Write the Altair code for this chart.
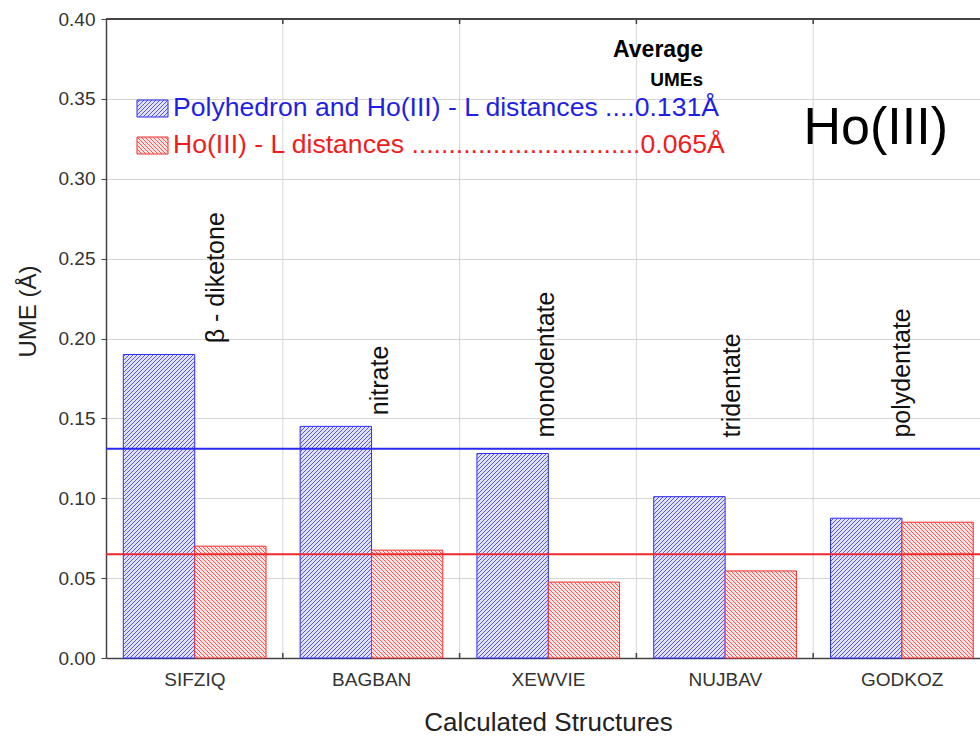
import json

import altair as alt
import numpy as np
import pandas as pd

# Structures and their ligand class
categories = ["SIFZIQ", "BAGBAN", "XEWVIE", "NUJBAV", "GODKOZ"]
ligand_types = ["β - diketone", "nitrate", "monodentate", "tridentate", "polydentate"]

# Unsigned mean errors (Å)
ume_polyhedron = [0.190, 0.145, 0.128, 0.101, 0.0875]
ume_ho_l = [0.070, 0.0675, 0.0475, 0.0545, 0.085]
avg_polyhedron = 0.131
avg_ho_l = 0.065

y_ticks = [0.00, 0.05, 0.10, 0.15, 0.20, 0.25, 0.30, 0.35, 0.40]

series_names = ["poly", "hol"]
legend_texts = [
    "Polyhedron and Ho(III) - L distances ....0.131Å",
    "Ho(III) - L distances " + "." * 31 + "0.065Å",
]

# ---- layout / style ----
FONT = "Liberation Sans"
WIDTH, HEIGHT = 874, 639
BAND_PX = 176.8
X_MAX = WIDTH / BAND_PX
Y_MAX = 0.40
PX_Y = HEIGHT / Y_MAX
BAR_START, BAR_MID, BAR_END = 0.098, 0.502, 0.905
HATCH_PITCH = 4.0
AXIS_GRAY = "#444444"
GRID_GRAY = "#d6d6d6"
LINE_COLORS = ["#2020f0", "#f01c1c"]
HATCH_COLORS = ["#4646ff", "#ff4646"]
FILL_COLORS = ["#e2e2ff", "#ffe2e2"]
EDGE_COLORS = ["#2a2aee", "#ee2a2a"]
TEXT_COLORS = ["#1f1fe6", "#f01c1c"]


def hatch(x0, x1, y0, y1, rising, series):
    """Diagonal hatch segments clipped to a rectangle given in pixels
    (x from plot left, y up from the baseline); returned in data units."""
    segs = []
    lo, hi = (x0 - y1, x1 - y0) if rising else (x0 + y0, x1 + y1)
    c = np.ceil(lo / HATCH_PITCH) * HATCH_PITCH
    while c < hi:
        if rising:
            ys, ye = max(y0, x0 - c), min(y1, x1 - c)
            pts = (c + ys, ys, c + ye, ye)
        else:
            ys, ye = max(y0, c - x1), min(y1, c - x0)
            pts = (c - ys, ys, c - ye, ye)
        if ye - ys > 0.3:
            segs.append(dict(x=pts[0] / BAND_PX, y=pts[1] / PX_Y,
                             x2=pts[2] / BAND_PX, y2=pts[3] / PX_Y, series=series))
        c += HATCH_PITCH
    return segs


rects, segs = [], []
for i, (vp, vh) in enumerate(zip(ume_polyhedron, ume_ho_l)):
    for s, (a, b, v, rising) in zip(series_names, [
        (BAR_START, BAR_MID, vp, True),
        (BAR_MID, BAR_END, vh, False),
    ]):
        rects.append(dict(x0=i + a, x1=i + b, y0=0.0, y1=v, series=s))
        segs += hatch((i + a) * BAND_PX, (i + b) * BAND_PX, 0.0, v * PX_Y, rising, s)

# legend swatches (pixel boxes inside the plot, y measured down from the top)
swatch_boxes = [(31, 62, 81, 98), (31, 62, 118, 135)]
for s, (bx0, bx1, by0, by1), rising in zip(series_names, swatch_boxes, [True, False]):
    u0, u1 = HEIGHT - by1, HEIGHT - by0
    rects.append(dict(x0=bx0 / BAND_PX, x1=bx1 / BAND_PX, y0=u0 / PX_Y, y1=u1 / PX_Y, series=s))
    segs += hatch(bx0, bx1, u0, u1, rising, s)

rect_df = pd.DataFrame(rects)
hatch_df = pd.DataFrame(segs)
avg_df = pd.DataFrame({"series": series_names, "avg": [avg_polyhedron, avg_ho_l]})
bound_df = pd.DataFrame({"b": list(range(1, len(categories)))})
label_pos = [0.62, 0.55, 0.49, 0.54, 0.50]
ann_df = pd.DataFrame({
    "lx": [i + p for i, p in enumerate(label_pos)],
    "ly": [max(v + 0.007, 0.138) for v in ume_polyhedron],
    "label": ligand_types,
})

x_scale = alt.Scale(domain=[0, X_MAX], nice=False, zero=False)
y_scale = alt.Scale(domain=[0, Y_MAX], nice=False)
line_scale = alt.Scale(domain=series_names, range=LINE_COLORS)
hatch_scale = alt.Scale(domain=series_names, range=HATCH_COLORS)

x_axis = alt.Axis(
    values=[i + 0.5 for i in range(len(categories))],
    labelExpr=json.dumps(categories) + "[floor(datum.value)]",
    title="Calculated Structures", grid=False, ticks=False, tickSize=0,
    domainColor=AXIS_GRAY, domainWidth=1.5,
    labelFont=FONT, labelFontSize=19, labelColor="#333333", labelPadding=12,
    labelFlush=False, labelOverlap=False,
    titleFont=FONT, titleFontSize=26, titleFontWeight="normal", titleColor="#222222",
    titleX=442, titleY=64, titleBaseline="middle",
)
y_axis = alt.Axis(
    values=y_ticks, format=".2f", title="UME (Å)",
    grid=True, gridColor=GRID_GRAY, gridWidth=1,
    ticks=True, tickSize=5, tickColor=AXIS_GRAY,
    domainColor=AXIS_GRAY, domainWidth=1.5,
    labelFont=FONT, labelFontSize=19, labelColor="#333333", labelPadding=6,
    titleFont=FONT, titleFontSize=24, titleFontWeight="normal", titleColor="#222222",
    titleX=-78, titleY=292, titleAngle=270, titleBaseline="middle", titleAlign="center",
)

vgrid = alt.Chart(bound_df).mark_rule(color=GRID_GRAY, strokeWidth=1).encode(
    x=alt.X("b:Q", scale=x_scale, axis=x_axis)
)

bars = alt.Chart(rect_df).mark_rect(strokeWidth=1).encode(
    x=alt.X("x0:Q", scale=x_scale, axis=x_axis),
    x2="x1:Q",
    y=alt.Y("y1:Q", scale=y_scale, axis=y_axis),
    y2="y0:Q",
    fill=alt.Fill("series:N", scale=alt.Scale(domain=series_names, range=FILL_COLORS), legend=None),
    stroke=alt.Stroke("series:N", scale=alt.Scale(domain=series_names, range=EDGE_COLORS), legend=None),
)

hatches = alt.Chart(hatch_df).mark_rule(strokeWidth=0.9).encode(
    x="x:Q", y="y:Q", x2="x2:Q", y2="y2:Q",
    color=alt.Color("series:N", scale=hatch_scale, legend=None),
)

avg_lines = alt.Chart(avg_df).mark_rule(strokeWidth=2).encode(
    y="avg:Q",
    stroke=alt.Stroke("series:N", scale=line_scale, legend=None),
)

bottom_ticks = alt.Chart(bound_df).mark_rule(color=AXIS_GRAY, strokeWidth=1.5).encode(
    x="b:Q", y=alt.value(HEIGHT), y2=alt.value(HEIGHT - 5)
)
top_ticks = alt.Chart(bound_df).mark_rule(color=AXIS_GRAY, strokeWidth=1.5).encode(
    x="b:Q", y=alt.value(0), y2=alt.value(5)
)
top_frame = alt.Chart(bound_df).mark_rule(color=AXIS_GRAY, strokeWidth=1.5).encode(
    y=alt.value(0), x=alt.value(0), x2=alt.value(WIDTH + 2)
)

annotations = alt.Chart(ann_df).mark_text(
    angle=270, align="left", baseline="middle", font=FONT, fontSize=25, color="#111111"
).encode(x="lx:Q", y="ly:Q", text="label:N")


def label(text, x, y, size, color="#000000", weight="normal", align="left"):
    return alt.Chart(pd.DataFrame({"t": [text]})).mark_text(
        font=FONT, fontSize=size, fontWeight=weight, color=color,
        align=align, baseline="middle",
    ).encode(x=alt.value(x), y=alt.value(y), text="t:N")


texts = [
    label("Average", 597, 31, 23, weight="bold", align="right"),
    label("UMEs", 597, 61, 19, weight="bold", align="right"),
    label(legend_texts[0], 67, 89, 26.6, color=TEXT_COLORS[0]),
    label(legend_texts[1], 67, 126, 26.6, color=TEXT_COLORS[1]),
    label("Ho(III)", 842, 109, 52, align="right"),
]

chart = alt.layer(
    vgrid, bars, hatches, avg_lines, bottom_ticks, top_ticks, top_frame, annotations, *texts
).properties(
    width=WIDTH,
    height=HEIGHT,
    autosize=alt.AutoSizeParams(type="none"),
    padding={"left": 106, "top": 19, "right": 0, "bottom": 78},
    background="white",
).configure_view(stroke=None)

chart.save("out.html", embed_options={"renderer": "svg", "actions": False})
